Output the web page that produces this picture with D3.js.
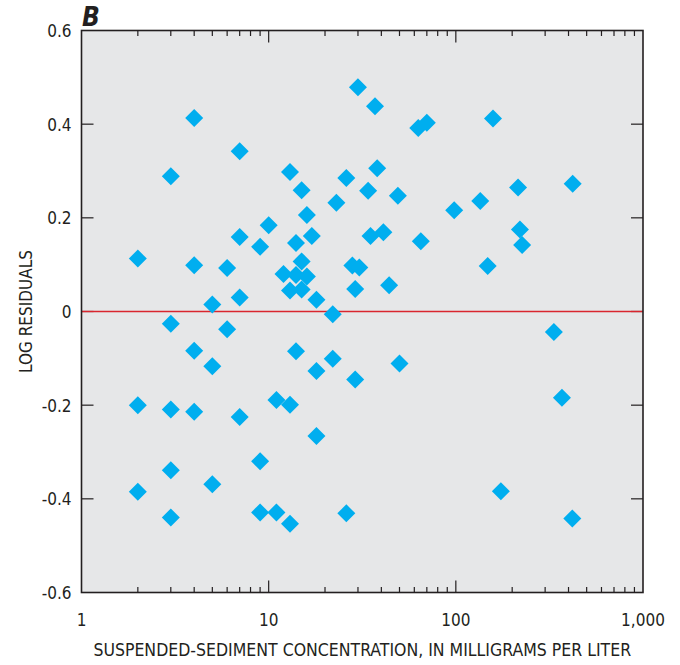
<!DOCTYPE html>
<html>
<head>
<meta charset="utf-8">
<script src="https://cdn.jsdelivr.net/npm/d3@7"></script>
<style>
  html, body { margin: 0; padding: 0; background: #ffffff; }
  svg { display: block; }
  text { font-family: "Liberation Sans Narrow", "Arial Narrow", "DejaVu Sans Condensed", sans-serif; fill: #231f20; }
</style>
</head>
<body>
<svg id="chart" width="680" height="665"></svg>
<script>
// Data
const concentration = [
  2, 2, 2,
  3, 3, 3, 3, 3,
  4, 4, 4, 4,
  5, 5, 5,
  6, 6,
  7, 7, 7, 7,
  9, 9, 9,
  10,
  11, 11,
  12,
  13, 13, 13, 13,
  14, 14, 14,
  15, 15, 15,
  16, 16,
  17,
  18, 18, 18,
  22, 22,
  23,
  26, 26,
  28,
  29, 29,
  30, 30.5,
  34, 35, 37, 38, 41, 44, 49, 50,
  63, 70, 65,
  98, 135, 148, 158, 174,
  215, 220, 226,
  334, 369, 419, 421
];
const residual = [
  0.113, -0.200, -0.385,
  0.289, -0.026, -0.209, -0.339, -0.440,
  0.413, 0.099, -0.084, -0.214,
  0.015, -0.117, -0.369,
  0.093, -0.038,
  0.342, 0.159, 0.030, -0.225,
  0.138, -0.320, -0.429,
  0.184,
  -0.189, -0.429,
  0.080,
  0.298, 0.045, -0.199, -0.453,
  0.146, 0.078, -0.085,
  0.259, 0.107, 0.047,
  0.206, 0.075,
  0.161,
  0.025, -0.127, -0.266,
  -0.006, -0.101,
  0.232,
  0.285, -0.431,
  0.098,
  0.048, -0.145,
  0.479, 0.094,
  0.258, 0.161, 0.438, 0.306, 0.169, 0.056, 0.247, -0.111,
  0.392, 0.403, 0.150,
  0.216, 0.236, 0.097, 0.412, -0.384,
  0.265, 0.175, 0.142,
  -0.044, -0.184, -0.442, 0.273
];
const xDomain = [1, 1000];
const yDomain = [-0.6, 0.6];
const xMajorTicks = [1, 10, 100, 1000];
const xTickLabels = ["1", "10", "100", "1,000"];
const xMinorTicks = [2,3,4,5,6,7,8,9,20,30,40,50,60,70,80,90,200,300,400,500,600,700,800,900];
const yTicks = [-0.6, -0.4, -0.2, 0, 0.2, 0.4, 0.6];
const yTickLabels = ["-0.6", "-0.4", "-0.2", "0", "0.2", "0.4", "0.6"];
const panelLabel = "B";
const xTitle = "SUSPENDED-SEDIMENT CONCENTRATION, IN MILLIGRAMS PER LITER";
const yTitle = "LOG RESIDUALS";

(function () {
const svg = d3.select("#chart");
const pL = 81.5, pR = 643, pT = 30.5, pB = 592.5;

const x = d3.scaleLog().domain(xDomain).range([pL, pR]);
const y = d3.scaleLinear().domain(yDomain).range([pB, pT]);

const ink = "#231f20";

// Plot background
svg.append("rect")
  .attr("x", pL).attr("y", pT)
  .attr("width", pR - pL).attr("height", pB - pT)
  .attr("fill", "#e6e7e8");

// Tick marks (inward) on all four sides
const tickG = svg.append("g").attr("stroke", ink).attr("stroke-width", 1.2);
const majorLen = 12, minorLen = 5.5;
xMinorTicks.forEach(v => {
  tickG.append("line").attr("x1", x(v)).attr("x2", x(v)).attr("y1", pB).attr("y2", pB - minorLen);
  tickG.append("line").attr("x1", x(v)).attr("x2", x(v)).attr("y1", pT).attr("y2", pT + minorLen);
});
xMajorTicks.slice(1, -1).forEach(v => {
  tickG.append("line").attr("x1", x(v)).attr("x2", x(v)).attr("y1", pB).attr("y2", pB - majorLen);
  tickG.append("line").attr("x1", x(v)).attr("x2", x(v)).attr("y1", pT).attr("y2", pT + majorLen);
});
yTicks.slice(1, -1).forEach(v => {
  tickG.append("line").attr("x1", pL).attr("x2", pL + majorLen).attr("y1", y(v)).attr("y2", y(v));
  tickG.append("line").attr("x1", pR).attr("x2", pR - majorLen).attr("y1", y(v)).attr("y2", y(v));
});

// Zero reference line
svg.append("line")
  .attr("x1", pL).attr("x2", pR)
  .attr("y1", y(0)).attr("y2", y(0))
  .attr("stroke", "#d9262e").attr("stroke-width", 1.3);

// Frame
svg.append("rect")
  .attr("x", pL).attr("y", pT)
  .attr("width", pR - pL).attr("height", pB - pT)
  .attr("fill", "none").attr("stroke", ink).attr("stroke-width", 1.6);

// Points (diamonds)
const pts = concentration.map((c, i) => ({ c, r: residual[i] }));
const h = 9;
svg.append("g").selectAll("path").data(pts).join("path")
  .attr("transform", d => `translate(${x(d.c)},${y(d.r)})`)
  .attr("d", `M0,${-h}L${h},0L0,${h}L${-h},0Z`)
  .attr("fill", "#00aeef");

// Y tick labels
svg.append("g").selectAll("text").data(yTicks).join("text")
  .attr("x", pL - 10)
  .attr("y", d => y(d))
  .attr("dy", "0.38em")
  .attr("text-anchor", "end")
  .attr("font-size", 17)
  .text((d, i) => yTickLabels[i]);

// X tick labels
svg.append("g").selectAll("text").data(xMajorTicks).join("text")
  .attr("x", d => x(d))
  .attr("y", 626)
  .attr("text-anchor", "middle")
  .attr("font-size", 17)
  .text((d, i) => xTickLabels[i]);

// Axis titles
svg.append("text")
  .attr("x", (pL + pR) / 2)
  .attr("y", 656)
  .attr("text-anchor", "middle")
  .attr("font-size", 17.5)
  .text(xTitle);

svg.append("text")
  .attr("transform", `translate(32,${(pT + pB) / 2}) rotate(-90)`)
  .attr("text-anchor", "middle")
  .attr("font-size", 17)
  .text(yTitle);

// Panel label
svg.append("text")
  .attr("x", 82)
  .attr("y", 25.5)
  .attr("font-size", 26)
  .attr("font-weight", "bold")
  .attr("font-style", "italic")
  .text(panelLabel);
})();
</script>
</body>
</html>
